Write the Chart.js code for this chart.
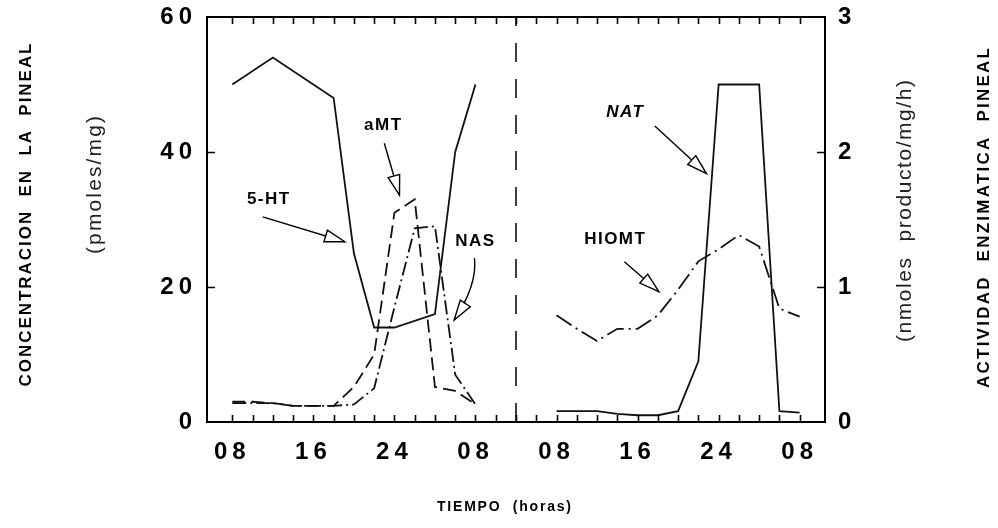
<!DOCTYPE html>
<html lang="es">
<head>
  <meta charset="utf-8" />
  <title>Pineal</title>
  <script src="https://cdn.jsdelivr.net/npm/chart.js"></script>
  <style>
    * { box-sizing: border-box; margin: 0; padding: 0; }
    body { background: #fff; width: 998px; height: 528px; overflow: hidden; }
    canvas { display: block; }
  </style>
</head>
<body>
  <canvas id="chart" width="998" height="528"></canvas>

  <script>
    // eje horizontal: horas desde las 08 del primer dia (panel derecho empieza en 32)
    const xLabelHours = [0, 8, 16, 24, 32, 40, 48, 56];
    const xLabels = ['08', '16', '24', '08', '08', '16', '24', '08'];
    const xTickHours = [0, 2, 4, 6, 8, 10, 12, 14, 16, 18, 20, 22, 24, 26, 28,
                        30, 32, 34, 36, 38, 40, 42, 44, 46, 48, 50, 52, 54, 56];
    const leftTicks = [0, 20, 40, 60];
    const rightTicks = [0, 1, 2, 3];
    const dividerHour = 28;

    // concentraciones (pmoles/mg)
    const htHours = [0, 4, 10, 12, 14, 16, 20, 22, 24];
    const htValues = [50, 54, 48, 25, 14, 14, 16, 40, 50];
    const leftHours = [0, 2, 4, 6, 8, 10, 12, 14, 16, 18, 20, 22, 24];
    const amtValues = [3, 3, 2.8, 2.4, 2.4, 2.4, 5.2, 10, 31, 33, 5.2, 4.6, 2.6];
    const nasValues = [2.8, 2.8, 2.8, 2.4, 2.4, 2.4, 2.6, 5, 17, 28.7, 29, 7, 2.6];

    // actividad enzimatica (nmoles producto/mg/h)
    const rightHours = [32, 34, 36, 38, 40, 42, 44, 46, 48, 50, 52, 54, 56];
    const natValues = [0.08, 0.08, 0.08, 0.06, 0.05, 0.05, 0.08, 0.45, 2.5, 2.5, 2.5, 0.08, 0.07];
    const hiomtValues = [0.79, 0.69, 0.6, 0.69, 0.69, 0.79, 0.98, 1.19, 1.28, 1.385, 1.3, 0.84, 0.78];

    // rotulos con flecha, en unidades de los ejes (x horas, y pmoles/mg)
    const notes = [
      { text: '5-HT', at: [3.6, 33], from: [3.0, 30.4], to: [11.1, 26.7] },
      { text: 'aMT', at: [14.9, 44], from: [15.0, 41.3], to: [16.5, 33.6] },
      { text: 'NAS', at: [24.0, 26.8], from: [23.9, 24.3], via: [24.2, 20.3], to: [21.9, 15.1] },
      { text: 'NAT', at: [38.8, 45.9], from: [41.7, 43.85], to: [46.8, 36.8], italic: true },
      { text: 'HIOMT', at: [37.8, 27.1], from: [38.7, 23.75], to: [42.1, 19.3] }
    ];

    const FONT = '"Liberation Sans", Arial, sans-serif';
    const pts = (xs, ys) => xs.map((x, i) => ({ x, y: ys[i] }));

    function spacedText(ctx, text, x, y, len, angle) {
      ctx.save();
      ctx.translate(x, y);
      ctx.rotate(angle);
      ctx.letterSpacing = '0px';
      const w = ctx.measureText(text).width;
      const ls = Math.max(0, (len - w) / (text.length - 1));
      ctx.letterSpacing = ls + 'px';
      ctx.textAlign = 'left';
      ctx.textBaseline = 'middle';
      ctx.fillText(text, -len / 2, 0);
      ctx.restore();
    }

    function arrowHead(ctx, px, py, tx, ty) {
      const a = Math.atan2(ty - py, tx - px);
      const L = 20, H = 6;
      const bx = tx - L * Math.cos(a), by = ty - L * Math.sin(a);
      ctx.beginPath();
      ctx.moveTo(tx, ty);
      ctx.lineTo(bx + H * Math.sin(a), by - H * Math.cos(a));
      ctx.lineTo(bx - H * Math.sin(a), by + H * Math.cos(a));
      ctx.closePath();
      ctx.fillStyle = '#fff';
      ctx.fill();
      ctx.stroke();
    }

    const framePlugin = {
      id: 'frame',
      beforeDraw(chart) {
        chart.ctx.letterSpacing = '5px';
      },
      beforeDatasetsDraw(chart) {
        chart.ctx.letterSpacing = '0px';
      },
      afterDatasetsDraw(chart) {
        const { ctx, chartArea: a, scales } = chart;
        ctx.save();
        ctx.strokeStyle = '#000';
        ctx.lineWidth = 1.6;
        ctx.beginPath();
        xTickHours.forEach(h => {
          const px = Math.round(scales.x.getPixelForValue(h)) + 0.5;
          ctx.moveTo(px, a.bottom); ctx.lineTo(px, a.bottom - 7);
          ctx.moveTo(px, a.top); ctx.lineTo(px, a.top + 7);
        });
        leftTicks.slice(1, -1).forEach(v => {
          const py = Math.round(scales.y.getPixelForValue(v)) + 0.5;
          ctx.moveTo(a.left, py); ctx.lineTo(a.left + 8, py);
        });
        rightTicks.slice(1, -1).forEach(v => {
          const py = Math.round(scales.y1.getPixelForValue(v)) + 0.5;
          ctx.moveTo(a.right, py); ctx.lineTo(a.right - 8, py);
        });
        ctx.stroke();

        // rotulos de las curvas
        ctx.lineWidth = 1.4;
        notes.forEach(n => {
          const X = v => scales.x.getPixelForValue(v[0]);
          const Y = v => scales.y.getPixelForValue(v[1]);
          ctx.font = (n.italic ? 'italic ' : '') + 'bold 17px ' + FONT;
          ctx.letterSpacing = '1.5px';
          ctx.textAlign = 'center';
          ctx.textBaseline = 'middle';
          ctx.fillStyle = '#000';
          ctx.fillText(n.text, X(n.at), Y(n.at));
          ctx.letterSpacing = '0px';
          ctx.beginPath();
          ctx.moveTo(X(n.from), Y(n.from));
          let px = X(n.from), py = Y(n.from);
          if (n.via) {
            ctx.quadraticCurveTo(X(n.via), Y(n.via), X(n.to), Y(n.to));
            px = X(n.via); py = Y(n.via);
          } else {
            ctx.lineTo(X(n.to), Y(n.to));
          }
          ctx.stroke();
          arrowHead(ctx, px, py, X(n.to), Y(n.to));
        });
        ctx.restore();
      },
      afterDraw(chart) {
        const ctx = chart.ctx;
        ctx.save();
        ctx.fillStyle = '#000';
        ctx.font = 'bold 17px ' + FONT;
        spacedText(ctx, 'CONCENTRACION  EN  LA  PINEAL', 26, 215, 343, -Math.PI / 2);
        spacedText(ctx, 'ACTIVIDAD  ENZIMATICA  PINEAL', 984, 218, 340, -Math.PI / 2);
        ctx.font = 'bold 14px ' + FONT;
        spacedText(ctx, 'TIEMPO  (horas)', 504, 507, 134, 0);
        ctx.fillStyle = '#222';
        ctx.font = '21px ' + FONT;
        spacedText(ctx, '(pmoles/mg)', 95, 185, 138, -Math.PI / 2);
        spacedText(ctx, '(nmoles  producto/mg/h)', 905, 211, 262, -Math.PI / 2);
        ctx.restore();
      }
    };

    const lineStyle = { borderColor: '#111', borderWidth: 1.8, pointRadius: 0, tension: 0, fill: false };
    const tickFont = { family: FONT, size: 24, weight: 'bold' };
    const plainGrid = { display: false, drawTicks: false };
    const border = { display: true, width: 2, color: '#000' };
    const noOverflowV = s => { s.paddingTop = 0; s.paddingBottom = 0; };
    const noOverflowH = s => { s.paddingLeft = 0; s.paddingRight = 0; };

    new Chart(document.getElementById('chart'), {
      type: 'line',
      data: {
        datasets: [
          { ...lineStyle, label: '5-HT', data: pts(htHours, htValues), yAxisID: 'y' },
          { ...lineStyle, label: 'aMT', data: pts(leftHours, amtValues), yAxisID: 'y', borderDash: [13, 6] },
          { ...lineStyle, label: 'NAS', data: pts(leftHours, nasValues), yAxisID: 'y', borderDash: [14, 4, 2, 4] },
          { ...lineStyle, label: 'NAT', data: pts(rightHours, natValues), yAxisID: 'y1' },
          { ...lineStyle, label: 'HIOMT', data: pts(rightHours, hiomtValues), yAxisID: 'y1', borderDash: [18, 5, 2, 5] },
          { ...lineStyle, label: 'div', data: pts([dividerHour, dividerHour], [0, 60]), yAxisID: 'y',
            borderWidth: 1.6, borderDash: [19, 17] }
        ]
      },
      options: {
        responsive: false,
        animation: false,
        layout: { padding: 0 },
        plugins: { legend: { display: false }, tooltip: { enabled: false } },
        scales: {
          x: {
            type: 'linear', position: 'bottom', min: -2.5, max: 58.5,
            grid: plainGrid, border,
            afterBuildTicks: s => { s.ticks = xLabelHours.map(v => ({ value: v })); },
            afterFit: s => { s.height = 106; noOverflowH(s); },
            ticks: { font: tickFont, color: '#000', padding: 16, autoSkip: false, maxRotation: 0,
                     callback: (v, i) => xLabels[i] }
          },
          xTop: {
            type: 'linear', position: 'top', min: -2.5, max: 58.5,
            grid: plainGrid, border, ticks: { display: false },
            afterFit: s => { s.height = 17; noOverflowH(s); }
          },
          y: {
            position: 'left', min: 0, max: 60,
            grid: plainGrid, border,
            afterBuildTicks: s => { s.ticks = leftTicks.map(v => ({ value: v })); },
            afterFit: s => { s.width = 207; noOverflowV(s); },
            ticks: { font: tickFont, color: '#000', padding: 10 }
          },
          y1: {
            position: 'right', min: 0, max: 3,
            grid: plainGrid, border,
            afterBuildTicks: s => { s.ticks = rightTicks.map(v => ({ value: v })); },
            afterFit: s => { s.width = 173; noOverflowV(s); },
            ticks: { font: tickFont, color: '#000', padding: 13 }
          }
        }
      },
      plugins: [framePlugin]
    });
  </script>
</body>
</html>
